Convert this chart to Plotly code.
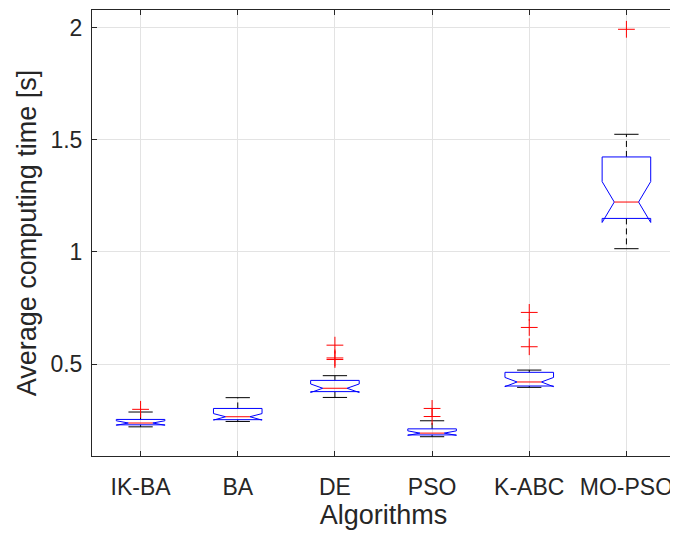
import plotly.graph_objects as go

categories = ["IK-BA", "BA", "DE", "PSO", "K-ABC", "MO-PSO"]
q1 = [0.229, 0.252, 0.377, 0.184, 0.402, 1.149]
median = [0.237, 0.265, 0.392, 0.192, 0.420, 1.222]
q3 = [0.253, 0.302, 0.427, 0.211, 0.463, 1.423]
notch_lo = [0.227, 0.250, 0.373, 0.182, 0.399, 1.131]
notch_hi = [0.247, 0.279, 0.411, 0.202, 0.440, 1.313]
whisker_lo = [0.220, 0.244, 0.351, 0.176, 0.396, 1.014]
whisker_hi = [0.286, 0.350, 0.448, 0.247, 0.473, 1.524]
outliers = [[0.298], [], [0.584, 0.527, 0.520], [0.302, 0.266],
            [0.730, 0.663, 0.577], [1.992]]

BOX_HALF = 0.25
NOTCH_HALF = 0.125
CAP_HALF = 0.125
FONT = "Liberation Sans, Arial, Helvetica, sans-serif"

box_x, box_y = [], []
med_x, med_y = [], []
wh_x, wh_y = [], []
cap_x, cap_y = [], []
out_x, out_y = [], []

for i in range(len(categories)):
    p = i + 1
    x0, x1 = p - BOX_HALF, p + BOX_HALF
    n0, n1 = p - NOTCH_HALF, p + NOTCH_HALF
    box_x += [x0, x0, n0, x0, x0, x1, x1, n1, x1, x1, x0, None]
    box_y += [q3[i], notch_hi[i], median[i], notch_lo[i], q1[i], q1[i],
              notch_lo[i], median[i], notch_hi[i], q3[i], q3[i], None]
    med_x += [n0, n1, None]
    med_y += [median[i], median[i], None]
    wh_x += [p, p, None, p, p, None]
    wh_y += [q3[i], whisker_hi[i], None, q1[i], whisker_lo[i], None]
    cap_x += [p - CAP_HALF, p + CAP_HALF, None, p - CAP_HALF, p + CAP_HALF, None]
    cap_y += [whisker_hi[i], whisker_hi[i], None, whisker_lo[i], whisker_lo[i], None]
    for v in outliers[i]:
        out_x.append(p)
        out_y.append(v)

fig = go.Figure()
fig.add_trace(go.Scatter(x=wh_x, y=wh_y, mode="lines",
                         line=dict(color="black", width=1, dash="6px,4px"),
                         hoverinfo="skip"))
fig.add_trace(go.Scatter(x=cap_x, y=cap_y, mode="lines",
                         line=dict(color="black", width=1), hoverinfo="skip"))
fig.add_trace(go.Scatter(x=box_x, y=box_y, mode="lines",
                         line=dict(color="#0000FF", width=1), hoverinfo="skip"))
fig.add_trace(go.Scatter(x=med_x, y=med_y, mode="lines",
                         line=dict(color="#FF0000", width=1), hoverinfo="skip"))
fig.add_trace(go.Scatter(x=out_x, y=out_y, mode="markers",
                         marker=dict(symbol="cross-thin", size=12,
                                     line=dict(color="#FF0000", width=1))))

axis_common = dict(
    showgrid=True, gridcolor="#e3e3e3", gridwidth=1,
    showline=True, linecolor="#262626", linewidth=1, mirror="ticks",
    ticks="inside", ticklen=5, tickcolor="#262626", zeroline=False,
    automargin=False,
    tickfont=dict(family=FONT, size=23, color="#262626"),
)

# page body adds an 8px margin, so the figure is sized to fit the 678x535 window
fig.update_layout(
    width=670, height=527,
    margin=dict(l=84, r=3, t=2, b=79),
    paper_bgcolor="white", plot_bgcolor="white",
    showlegend=False,
    font=dict(family=FONT, color="#262626"),
    xaxis=dict(range=[0.5, 6.5], tickmode="array",
               tickvals=list(range(1, len(categories) + 1)),
               ticktext=categories, ticklabelstandoff=10,
               title=dict(text="Algorithms", font=dict(family=FONT, size=27, color="#262626"),
                          standoff=2),
               **axis_common),
    yaxis=dict(range=[0.09, 2.078], tickmode="array",
               tickvals=[0.5, 1, 1.5, 2], ticktext=["0.5", "1", "1.5", "2"],
               ticklabelstandoff=4,
               title=dict(text="Average computing time [s]",
                          font=dict(family=FONT, size=27, color="#262626"), standoff=5),
               **axis_common),
)

fig.write_html("out.html")
